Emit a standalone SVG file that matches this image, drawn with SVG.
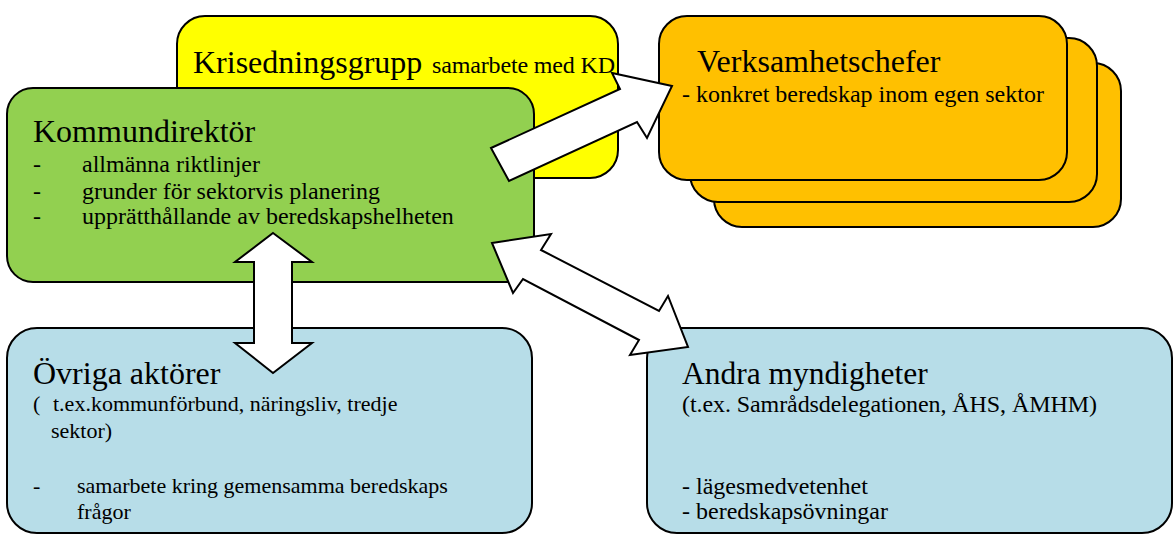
<svg xmlns="http://www.w3.org/2000/svg" width="1174" height="534" viewBox="0 0 1174 534">
<style>
.box{stroke:#000;stroke-width:2}
.y{fill:#FFFF00}.g{fill:#92D050}.o{fill:#FFC000}.b{fill:#B7DDE8}
.arr{fill:#fff;stroke:#000;stroke-width:2;stroke-linejoin:miter}
text{font-family:"Liberation Serif","Times New Roman",serif;fill:#000}
.t{font-size:32px}.s{font-size:24px}.s2{font-size:22px}
</style>
<rect width="1174" height="534" fill="#fff"/>
<g id="krisedningsgrupp">
<rect class="box y" x="177" y="16" width="441" height="162" rx="28"/>
<text class="t" x="193" y="73">Krisedningsgrupp</text>
<text class="s" x="432" y="73" textLength="183">samarbete med KD</text>
</g>
<g id="kommundirektor">
<rect class="box g" x="7" y="88" width="527" height="194" rx="26"/>
<text class="t" x="33" y="142">Kommundirektör</text>
<text class="s" x="33" y="172">-</text><text class="s" x="82" y="172">allmänna riktlinjer</text>
<text class="s" x="33" y="199">-</text><text class="s" x="82" y="199">grunder för sektorvis planering</text>
<text class="s" x="33" y="224">-</text><text class="s" x="82" y="224">upprätthållande av beredskapshelheten</text>
</g>
<g id="verksamhetschefer">
<rect class="box o" x="714" y="63" width="407" height="164" rx="28"/>
<rect class="box o" x="690" y="38" width="407" height="164" rx="28"/>
<rect class="box o" x="659" y="16" width="408" height="164" rx="28"/>
<text class="t" x="697" y="72">Verksamhetschefer</text>
<text class="s" x="682" y="102">- konkret beredskap inom egen sektor</text>
</g>
<g id="ovriga-aktorer">
<rect class="box b" x="7" y="328" width="525" height="205" rx="30"/>
<text class="t" x="33" y="384">Övriga aktörer</text>
<text class="s2" x="33" y="411">(</text>
<text class="s2" x="53" y="411">t.ex.kommunförbund, näringsliv, tredje</text>
<text class="s2" x="51" y="438">sektor)</text>
<text class="s2" x="33" y="493">-</text>
<text class="s2" x="77" y="493">samarbete kring gemensamma beredskaps</text>
<text class="s2" x="77" y="519">frågor</text>
</g>
<g id="andra-myndigheter">
<rect class="box b" x="647" y="328" width="525" height="205" rx="30"/>
<text class="t" x="682" y="384" style="font-size:31.5px">Andra myndigheter</text>
<text class="s" x="682" y="412" textLength="415">(t.ex. Samrådsdelegationen, ÅHS, ÅMHM)</text>
<text class="s" x="682" y="494">- lägesmedvetenhet</text>
<text class="s" x="682" y="519">- beredskapsövningar</text>
</g>
<g id="connectors">
<polygon class="arr" points="491,148 620,89 612,73 672,86 647,138 637,122 509,181"/>
<polygon class="arr" points="492,243 551,234 541,250 659,311 668,296 688,347 630,355 639,340 523,279 513,293"/>
<polygon class="arr" points="273,233 312,262 292,262 292,343 312,343 273,373 235,343 254,343 254,262 235,262"/>
</g>
</svg>
